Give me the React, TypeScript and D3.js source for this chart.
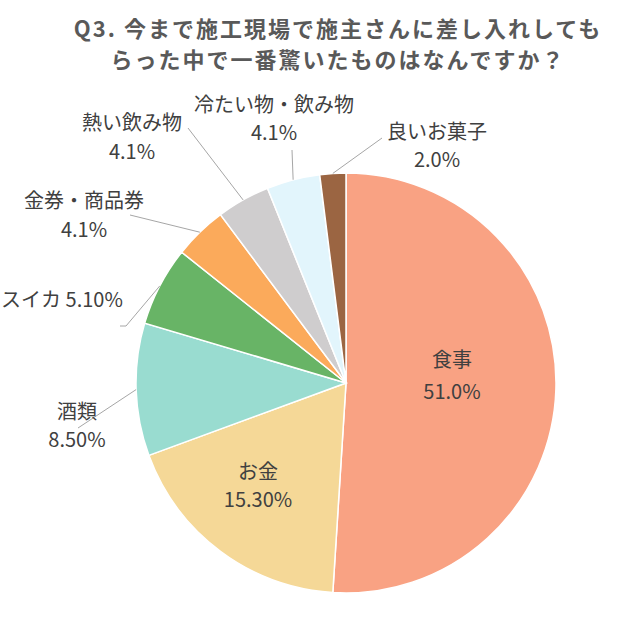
import React from "react";
import * as d3 from "d3";

const titleLines = ["Q3. 今まで施工現場で施主さんに差し入れしても", "らった中で一番驚いたものはなんですか？"];
const categories = ["食事", "お金", "酒類", "スイカ", "金券・商品券", "熱い飲み物", "冷たい物・飲み物", "良いお菓子"];
const values = [51.0, 18.4, 10.2, 6.1, 4.1, 4.1, 4.1, 2.0];
const pctLabels = ["51.0%", "15.30%", "8.50%", "5.10%", "4.1%", "4.1%", "4.1%", "2.0%"];
const colors = ["#F9A283", "#F5D897", "#99DCD0", "#68B466", "#FBAA5B", "#CFCDCE", "#E2F5FC", "#9B6542"];

// label layout: [centerX, line1Y, line2Y, inline]
const labelPos: [number, number, number, boolean][] = [
  [452, 358, 390, false],
  [258, 470, 498, false],
  [77, 410, 438, false],
  [62, 298, 298, true],
  [84, 199, 228, false],
  [132, 121, 150, false],
  [274, 103, 131, false],
  [437, 130, 158, false],
];
// leader line start points (null = no leader)
const leaderStart: ([number, number][] | null)[] = [
  null,
  null,
  [[78, 428]],
  [[120, 326], [126, 326]],
  [[130, 215]],
  [[188, 128]],
  [[292, 150]],
  [[382, 138]],
];

export default function App() {
  const cx = 346, cy = 383, r = 210;
  const pie = d3.pie<number>().sort(null).startAngle(0).endAngle(2 * Math.PI);
  const arcs = pie(values);
  const arc = d3.arc<d3.PieArcDatum<number>>().innerRadius(0).outerRadius(r);
  const edge = d3.arc<d3.PieArcDatum<number>>().innerRadius(r).outerRadius(r);
  const font = "'Noto Sans CJK JP', 'Noto Sans', sans-serif";
  const line = d3.line();
  return (
    <div style={{ position: "absolute", left: 0, top: 0 }}>
      <svg width={640} height={620} style={{ display: "block", background: "#fff" }}>
        {titleLines.map((t, i) => (
          <text key={i} x={338} y={27 + i * 31} textAnchor="middle" dominantBaseline="central"
            fontFamily={font} fontWeight="bold" fontSize={22} letterSpacing={2} fill="#595959">{t}</text>
        ))}
        <g transform={`translate(${cx},${cy})`}>
          {arcs.map((a, i) => (
            <path key={i} d={arc(a) || ""} fill={colors[i]} stroke="#fff" strokeWidth={1.5} />
          ))}
        </g>
        {arcs.map((a, i) => {
          const s = leaderStart[i];
          if (!s) return null;
          const [ex, ey] = edge.centroid(a);
          const pts: [number, number][] = [...s, [cx + ex, cy + ey]];
          return <path key={i} d={line(pts) || ""} fill="none" stroke="#A6A6A6" strokeWidth={1} />;
        })}
        {categories.map((c, i) => {
          const [x, y1, y2, inline] = labelPos[i];
          if (inline) {
            return (
              <text key={i} x={x} y={y1} textAnchor="middle" dominantBaseline="central"
                fontFamily={font} fontSize={20} fill="#404040">{c} {pctLabels[i]}</text>
            );
          }
          return (
            <g key={i}>
              <text x={x} y={y1} textAnchor="middle" dominantBaseline="central"
                fontFamily={font} fontSize={20} fill="#404040">{c}</text>
              <text x={x} y={y2} textAnchor="middle" dominantBaseline="central"
                fontFamily={font} fontSize={20} fill="#404040">{pctLabels[i]}</text>
            </g>
          );
        })}
      </svg>
    </div>
  );
}
